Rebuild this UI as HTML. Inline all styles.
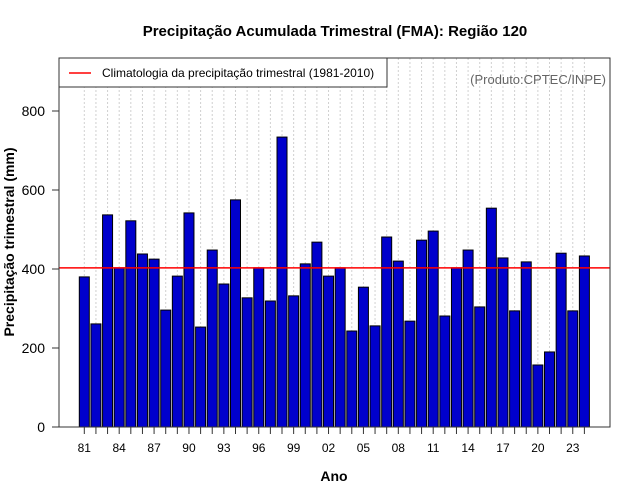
<!DOCTYPE html>
<html><head><meta charset="utf-8"><style>
body{margin:0;background:#fff}
svg{display:block;font-family:"Liberation Sans",sans-serif}
</style></head><body>
<div style="position:relative;width:640px;height:500px">
<svg id="c" width="640" height="500" style="position:absolute;left:0;top:0"></svg>
<svg width="640" height="500" style="position:absolute;left:0;top:0;font-family:'Liberation Sans',sans-serif">
<text x="335" y="36" text-anchor="middle" font-size="15" font-weight="bold">Precipitação Acumulada Trimestral (FMA): Região 120</text>
<g>
<rect x="59" y="58" width="328" height="29" fill="#fff" stroke="#333"/>
<line x1="69" y1="73" x2="91" y2="73" stroke="#ff0000" stroke-width="1.5"/>
<text x="102" y="77" font-size="12">Climatologia da precipitação trimestral (1981-2010)</text>
</g>
<text x="606" y="84" text-anchor="end" font-size="13" fill="#666">(Produto:CPTEC/INPE)</text>
<text x="334" y="481" text-anchor="middle" font-size="14" font-weight="bold">Ano</text>
<text transform="translate(14,242) rotate(-90)" text-anchor="middle" font-size="14" font-weight="bold">Precipitação trimestral (mm)</text>
</svg>
</div>
<script>
const years=[81,82,83,84,85,86,87,88,89,90,91,92,93,94,95,96,97,98,99,0,1,2,3,4,5,6,7,8,9,10,11,12,13,14,15,16,17,18,19,20,21,22,23,24];
const values=[380,261,537,403,522,438,425,296,382,542,253,448,362,575,327,403,319,734,332,413,468,382,403,243,354,256,481,420,268,473,496,281,403,448,304,554,428,294,418,157,190,440,294,433];
const climatology=[403];
const yTicks=[0,200,400,600,800];
const ns="http://www.w3.org/2000/svg",svg=document.getElementById('c');
function mk(t,a,txt){const e=document.createElementNS(ns,t);for(const k in a)e.setAttribute(k,a[k]);if(txt!=null)e.textContent=txt;svg.appendChild(e);return e;}
const L=59,R=610,T=58,B=427;
const y=v=>B-v*0.395;
const x=i=>84.3+i*11.63;
years.forEach((yr,i)=>{const g=mk('line',{x1:x(i),x2:x(i),y1:T,y2:B,stroke:'#d0d0d0','stroke-dasharray':'2,2'});


const tk=mk('line',{x1:x(i),x2:x(i),y1:B,y2:B+7,stroke:'#333'});

});
values.forEach((v,i)=>{const b=mk('rect',{x:x(i)-5,y:y(v),width:10,height:B-y(v),fill:'#0000CC',stroke:'#000','stroke-width':1});

});
const cl=mk('line',{x1:L,x2:R,y1:y(climatology[0]),y2:y(climatology[0]),stroke:'#ff0000','stroke-width':1.5});


const fr=mk('rect',{x:L,y:T,width:R-L,height:B-T,fill:'none',stroke:'#333'});


yTicks.forEach(v=>{const l=mk('line',{x1:L-7,x2:L,y1:y(v),y2:y(v),stroke:'#333'});


const t=mk('text',{x:L-14,y:y(v)+5,'text-anchor':'end','font-size':14},v);

});
years.forEach((yr,i)=>{if(i%3)return;const t=mk('text',{x:x(i),y:452,'text-anchor':'middle','font-size':12},String(yr).padStart(2,'0'));

});
</script>
</body></html>
